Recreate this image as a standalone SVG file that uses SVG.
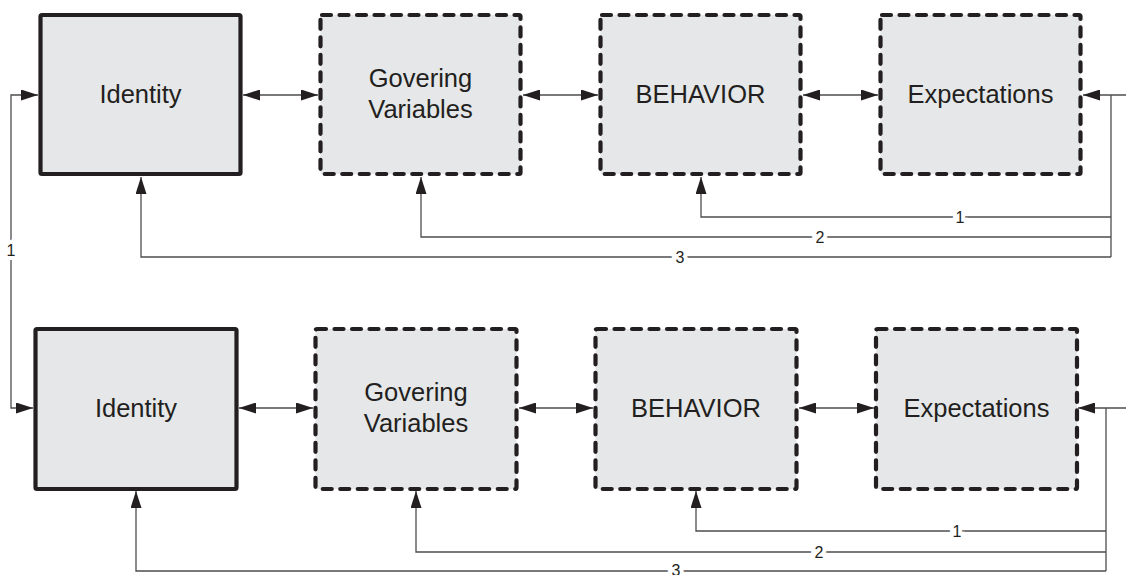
<svg xmlns="http://www.w3.org/2000/svg" width="1126" height="575" viewBox="0 0 1126 575">
<style>
.box{fill:#e6e7e8;stroke:#231f20;stroke-width:4.2;stroke-linejoin:round}
.dash{stroke-dasharray:9 8.5;stroke-linecap:round}
.lbl{font-family:"Liberation Sans",Arial,sans-serif;font-size:25.5px;fill:#231f20;text-anchor:middle}
.conn{fill:none;stroke:#4d4d4d;stroke-width:1.3}
.arr{marker-end:url(#ah)}
.bi{marker-start:url(#ah);marker-end:url(#ah)}
.num{font-family:"Liberation Sans",Arial,sans-serif;font-size:16px;fill:#231f20;text-anchor:middle;stroke:#fff;stroke-width:8;paint-order:stroke}
</style>
<defs>
<marker id="ah" viewBox="0 0 17 11" refX="17" refY="5.5" markerWidth="17" markerHeight="11" markerUnits="userSpaceOnUse" orient="auto-start-reverse">
<path d="M0,0 L17,5.5 L0,11 z" fill="#231f20"/>
</marker>
</defs>
<rect width="1126" height="575" fill="#fff"/>
<g id="connectors">
<line class="conn bi" x1="243" y1="95" x2="318" y2="95"/>
<line class="conn bi" x1="523" y1="95" x2="598" y2="95"/>
<line class="conn bi" x1="803" y1="95" x2="878" y2="95"/>
<line class="conn arr" x1="1126" y1="95" x2="1083" y2="95"/>
<line class="conn" x1="1111" y1="95" x2="1111" y2="257"/>
<polyline class="conn arr" points="1111,217 701,217 701,177"/>
<polyline class="conn arr" points="1111,237 421,237 421,177"/>
<polyline class="conn arr" points="1111,257 141,257 141,177"/>
<polyline class="conn arr" points="11,250 11,95 38,95"/>
<polyline class="conn arr" points="11,250 11,408 33,408"/>
<line class="conn bi" x1="239" y1="408" x2="313" y2="408"/>
<line class="conn bi" x1="519" y1="408" x2="593" y2="408"/>
<line class="conn bi" x1="799" y1="408" x2="874" y2="408"/>
<line class="conn arr" x1="1126" y1="408" x2="1078" y2="408"/>
<line class="conn" x1="1106" y1="408" x2="1106" y2="571"/>
<polyline class="conn arr" points="1106,531 696,531 696,491"/>
<polyline class="conn arr" points="1106,552 416,552 416,491"/>
<polyline class="conn arr" points="1106,571 136,571 136,491"/>
<text class="num" x="960" y="222.5">1</text>
<text class="num" x="820" y="242.5">2</text>
<text class="num" x="680" y="262.5">3</text>
<text class="num" x="11" y="255.5">1</text>
<text class="num" x="957" y="536.5">1</text>
<text class="num" x="819" y="557.5">2</text>
<text class="num" x="676" y="576">3</text>
</g>
<g id="identity1">
<rect class="box" x="40.5" y="15" width="200" height="159" rx="1.5"/>
<text class="lbl" x="140.5" y="103">Identity</text>
</g>
<g id="governing1">
<rect class="box dash" x="320.5" y="15" width="200" height="159" rx="1.5"/>
<text class="lbl" x="420.5" y="87">Govering</text>
<text class="lbl" x="420.5" y="118">Variables</text>
</g>
<g id="behavior1">
<rect class="box dash" x="600.5" y="15" width="200" height="159" rx="1.5"/>
<text class="lbl" x="700.5" y="103">BEHAVIOR</text>
</g>
<g id="expectations1">
<rect class="box dash" x="880.5" y="15" width="200" height="159" rx="1.5"/>
<text class="lbl" x="980.5" y="103">Expectations</text>
</g>
<g id="identity2">
<rect class="box" x="35.5" y="329" width="201" height="160" rx="1.5"/>
<text class="lbl" x="136" y="417">Identity</text>
</g>
<g id="governing2">
<rect class="box dash" x="315.5" y="329" width="201" height="160" rx="1.5"/>
<text class="lbl" x="416" y="401">Govering</text>
<text class="lbl" x="416" y="432">Variables</text>
</g>
<g id="behavior2">
<rect class="box dash" x="595.5" y="329" width="201" height="160" rx="1.5"/>
<text class="lbl" x="696" y="417">BEHAVIOR</text>
</g>
<g id="expectations2">
<rect class="box dash" x="876" y="329" width="201" height="160" rx="1.5"/>
<text class="lbl" x="976.5" y="417">Expectations</text>
</g>
</svg>
